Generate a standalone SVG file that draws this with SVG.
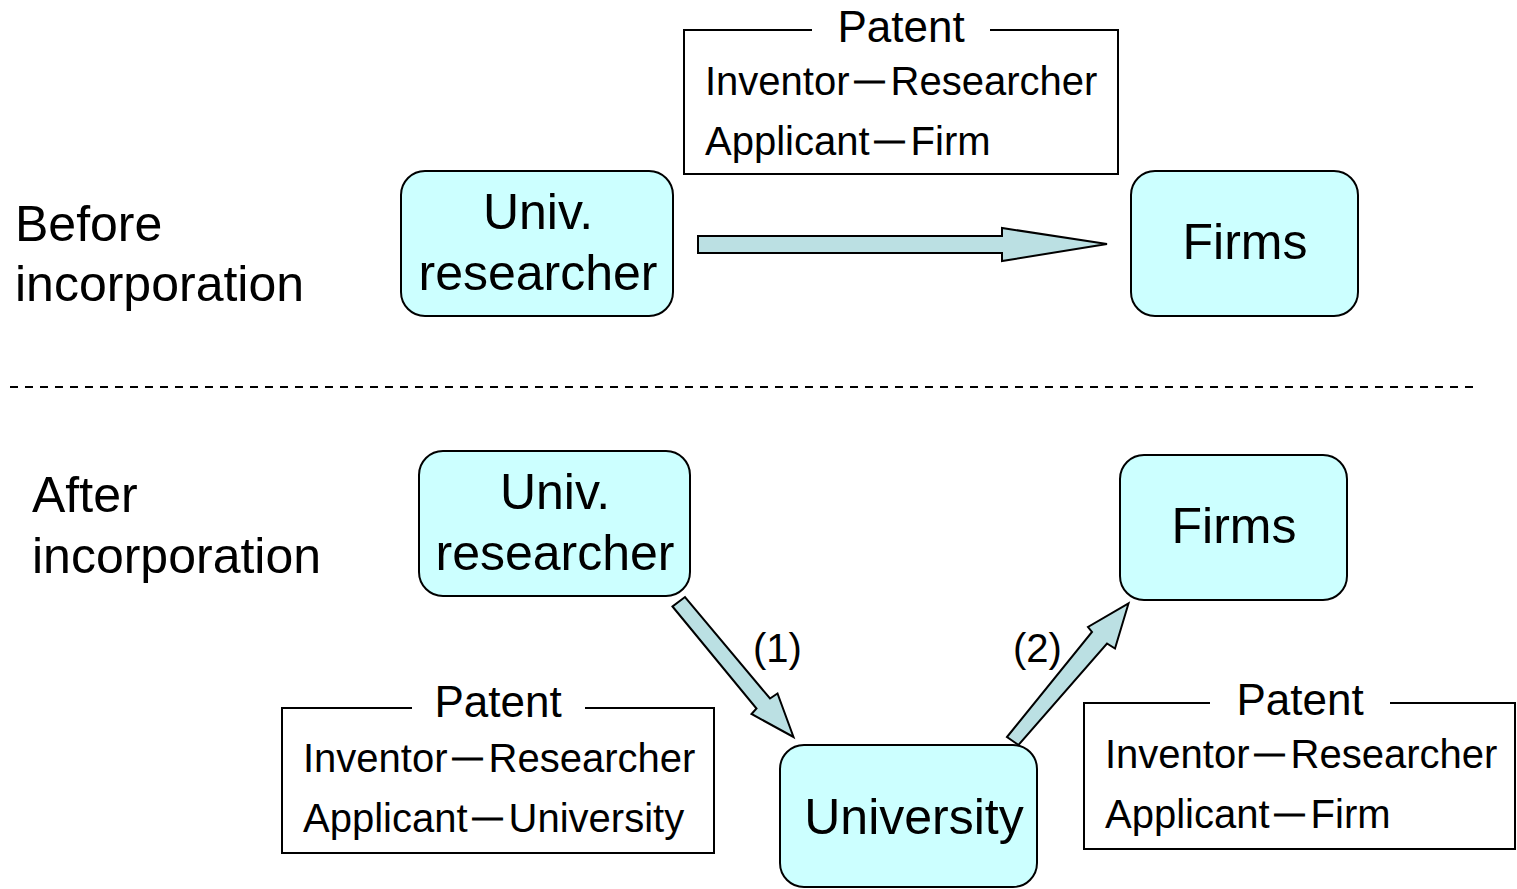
<svg xmlns="http://www.w3.org/2000/svg" width="1517" height="889" viewBox="0 0 1517 889">
<style>
text{font-family:"Liberation Sans",Arial,sans-serif;fill:#000}
.node{fill:#CCFFFF;stroke:#000;stroke-width:2}
.big{font-size:50px}
.mid{font-size:50px;text-anchor:middle}
.pat{font-size:44px;text-anchor:middle}
.line{font-size:40px}
.dash{font-size:30px;stroke:#000;stroke-width:1}
.lab{font-size:40px}
.frame{fill:none;stroke:#000;stroke-width:2}
.arrow{fill:#BBE0E3;stroke:#000;stroke-width:2;stroke-linejoin:miter}
</style>
<rect width="1517" height="889" fill="#fff"/>

<g id="label-before">
<text class="big" x="15" y="241">Before</text>
<text class="big" x="15" y="301">incorporation</text>
</g>
<g id="label-after">
<text class="big" x="32" y="512">After</text>
<text class="big" x="32" y="573">incorporation</text>
</g>

<g id="divider">
<line x1="10" y1="387" x2="1473" y2="387" stroke="#000" stroke-width="2" stroke-dasharray="8 7"/>
</g>

<g id="patent-top">
<path class="frame" d="M812,30 H684 V174 H1118 V30 H990"/>
<text class="pat" x="901" y="42">Patent</text>
<text class="line" x="705" y="95">Inventor<tspan class="dash" dx="5" dy="-5">—</tspan><tspan dx="6" dy="5">Researcher</tspan></text>
<text class="line" x="705" y="155">Applicant<tspan class="dash" dx="5" dy="-5">—</tspan><tspan dx="6" dy="5">Firm</tspan></text>
</g>

<g id="researcher-top">
<rect class="node" x="401" y="171" width="272" height="145" rx="24"/>
<text class="mid" x="538" y="229">Univ.</text>
<text class="mid" x="538" y="290">researcher</text>
</g>

<g id="firms-top">
<rect class="node" x="1131" y="171" width="227" height="145" rx="24"/>
<text class="mid" x="1245" y="259">Firms</text>
</g>

<g id="researcher-bottom">
<rect class="node" x="419" y="451" width="271" height="145" rx="24"/>
<text class="mid" x="555" y="509">Univ.</text>
<text class="mid" x="555" y="570">researcher</text>
</g>

<g id="firms-bottom">
<rect class="node" x="1120" y="455" width="227" height="145" rx="24"/>
<text class="mid" x="1234" y="543">Firms</text>
</g>

<g id="university">
<rect class="node" x="780" y="745" width="257" height="142" rx="24"/>
<text class="mid" x="914" y="834">University</text>
</g>

<g id="patent-left">
<path class="frame" d="M412,708 H282 V853 H714 V708 H585"/>
<text class="pat" x="498" y="717">Patent</text>
<text class="line" x="303" y="772">Inventor<tspan class="dash" dx="5" dy="-5">—</tspan><tspan dx="6" dy="5">Researcher</tspan></text>
<text class="line" x="303" y="832">Applicant<tspan class="dash" dx="5" dy="-5">—</tspan><tspan dx="6" dy="5">University</tspan></text>
</g>

<g id="patent-right">
<path class="frame" d="M1210,703 H1084 V849 H1515 V703 H1390"/>
<text class="pat" x="1300" y="715">Patent</text>
<text class="line" x="1105" y="768">Inventor<tspan class="dash" dx="5" dy="-5">—</tspan><tspan dx="6" dy="5">Researcher</tspan></text>
<text class="line" x="1105" y="828">Applicant<tspan class="dash" dx="5" dy="-5">—</tspan><tspan dx="6" dy="5">Firm</tspan></text>
</g>

<g id="connectors">
<polygon class="arrow" points="698,236 1002,236 1002,228 1107,244 1002,261 1002,253 698,253"/>
<polygon class="arrow" points="672.5,606.5 756.5,708.5 751.5,714 793.5,737 777.5,693.5 770,698.5 685,597"/>
<polygon class="arrow" points="1007,737 1092,632 1088,627 1128.5,603.5 1115,648.5 1107,643.5 1018.5,745"/>
<text class="lab" x="753" y="662">(1)</text>
<text class="lab" x="1013" y="662">(2)</text>
</g>
</svg>
